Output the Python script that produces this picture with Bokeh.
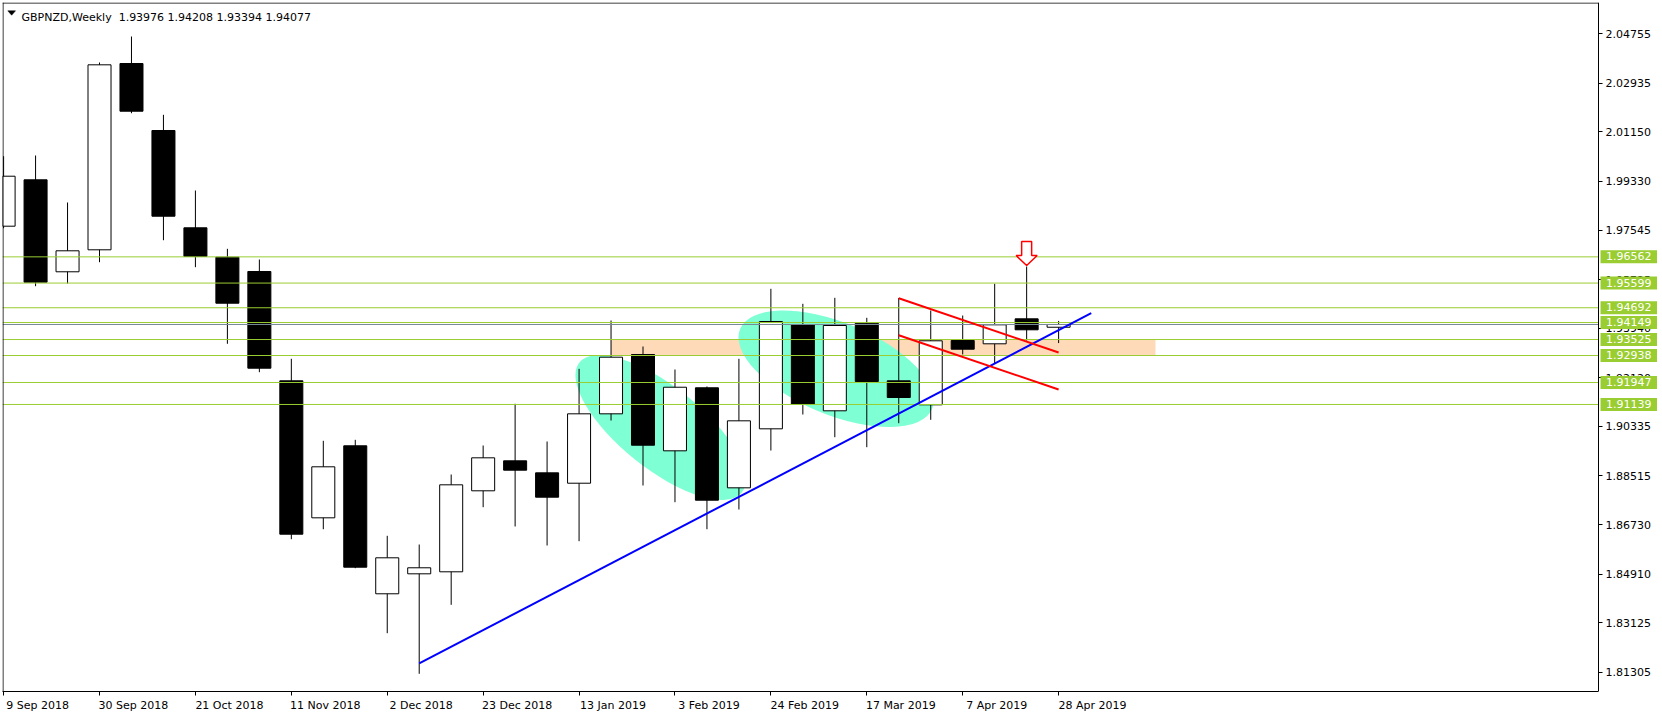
from bokeh.plotting import figure
from bokeh.models import (ColumnDataSource, FixedTicker, NumeralTickFormatter,
                          Range1d, Span, Label, LinearAxis)
from bokeh.embed import file_html
from bokeh.resources import INLINE

# ---------------- data ----------------
title_text = "GBPNZD,Weekly\u00a0 1.93976 1.94208 1.93394 1.94077"

# x tick labels (every 3 weeks, week index 0 = 9 Sep 2018)
tick_weeks = [0, 3, 6, 9, 12, 15, 18, 21, 24, 27, 30, 33]
tick_labels = ["9 Sep 2018", "30 Sep 2018", "21 Oct 2018", "11 Nov 2018",
               "2 Dec 2018", "23 Dec 2018", "13 Jan 2019", "3 Feb 2019",
               "24 Feb 2019", "17 Mar 2019", "7 Apr 2019", "28 Apr 2019"]

# price axis ticks
price_ticks = [2.04755, 2.02935, 2.01150, 1.99330, 1.97545, 1.95725, 1.93940,
               1.92120, 1.90335, 1.88515, 1.86730, 1.84910, 1.83125, 1.81305]

# weekly OHLC (34 bars)
opens = [1.97688, 1.99392, 1.96013, 1.96821, 2.03664, 2.01203, 1.97629, 1.96549,
         1.96024, 1.92009, 1.86976, 1.89621, 1.84185, 1.84919, 1.84993, 1.87968,
         1.89070, 1.88629, 1.88247, 1.90796, 1.92975, 1.89437, 1.91752, 1.88078,
         1.90245, 1.94077, 1.90907, 1.94124, 1.92009, 1.91127, 1.93489, 1.93368,
         1.94286, 1.93976]
highs = [2.00259, 2.00285, 1.98558, 2.03701, 2.04656, 2.01780, 1.98999, 1.96857,
         1.96464, 1.92817, 1.89805, 1.89841, 1.86315, 1.85995, 1.88567, 1.89632,
         1.91164, 1.89779, 1.92449, 1.94224, 1.93269, 1.92424, 1.91800, 1.92817,
         1.95388, 1.94837, 1.95057, 1.94323, 1.95050, 1.94591, 1.94407, 1.95572,
         1.96207, 1.94208]
lows = [1.97614, 1.95484, 1.95583, 1.96365, 2.01838, 1.97173, 1.96182, 1.93368,
        1.92325, 1.86190, 1.86557, 1.85125, 1.82737, 1.81246, 1.83780, 1.87366,
        1.86657, 1.85959, 1.86117, 1.90550, 1.88163, 1.87549, 1.86557, 1.87281,
        1.89448, 1.90771, 1.89937, 1.89570, 1.90451, 1.90576, 1.92975, 1.92633,
        1.93489, 1.93394]
closes = [1.99524, 1.95631, 1.96784, 2.03616, 2.01912, 1.98055, 1.96575, 1.94859,
          1.92472, 1.86374, 1.88850, 1.85162, 1.85507, 1.85140, 1.88188, 1.89180,
          1.88725, 1.87733, 1.90796, 1.92876, 1.89643, 1.91773, 1.87623, 1.90539,
          1.94187, 1.91138, 1.94040, 1.91983, 1.91395, 1.93478, 1.93169, 1.94066,
          1.93882, 1.94077]

# horizontal support / resistance levels
levels = [1.96562, 1.95599, 1.94692, 1.94149, 1.93525, 1.92938, 1.91947, 1.91139]
bid_price = 1.94077

# drawings (week index, price)
trend_weeks = [13, 34.02]
trend_prices = [1.81625, 1.94492]
red1_weeks = [28, 33]
red1_prices = [1.95043, 1.93048]
red2_weeks = [28, 33]
red2_prices = [1.93684, 1.91689]
zone_weeks = [19, 36.03]
zone_prices = [1.92938, 1.93525]
ellipse_weeks = [20.55, 26.04]
ellipse_prices = [1.90293, 1.92449]
arrow_week = 32

# ---------------- layout ----------------
FW, FH = 1660, 689
x_start, x_end = -0.0344, 51.889
axis_x = 49.888            # price scale sits here (right edge of the chart area)
y_start, y_end = 1.80596, 2.05905
xpp = (x_end - x_start) / FW
ypp = (y_end - y_start) / FH

FONT = "DejaVu Sans"
GREEN = "#9ACD32"

p = figure(frame_width=FW, frame_height=FH, min_border_left=2, min_border_top=2,
           min_border_right=0, min_border_bottom=23,
           x_range=Range1d(x_start, x_end), y_range=Range1d(y_start, y_end),
           y_axis_location=None, toolbar_location=None, output_backend="svg",
           title=None)
p.background_fill_color = "white"
p.border_fill_color = "white"
p.outline_line_color = None
p.grid.visible = False

# x axis: labels start at tick (left aligned) -> major ticks carry labels, minor ticks mark the dates
shift = 1.0625
xa = p.xaxis[0]
xa.ticker = FixedTicker(ticks=[t + shift for t in tick_weeks], minor_ticks=tick_weeks)
xa.major_label_overrides = {t + shift: lab for t, lab in zip(tick_weeks, tick_labels)}
xa.bounds = (x_start, axis_x)
xa.major_tick_line_color = None
xa.major_tick_in = 0
xa.major_tick_out = 4
xa.minor_tick_in = 0
xa.minor_tick_out = 4
xa.minor_tick_line_color = "black"
xa.major_label_standoff = 3
xa.major_label_text_font = FONT
xa.major_label_text_font_size = "11px"
xa.major_label_text_color = "black"
xa.axis_line_color = "black"

# price axis, fixed at the chart's right edge
ya = LinearAxis(fixed_location=axis_x)
ya.ticker = FixedTicker(ticks=price_ticks)
ya.formatter = NumeralTickFormatter(format="0.00000")
ya.major_tick_in = 0
ya.major_tick_out = 4
ya.minor_tick_line_color = None
ya.major_label_standoff = 3
ya.major_label_text_font = FONT
ya.major_label_text_font_size = "11px"
ya.major_label_text_color = "black"
ya.axis_line_color = "black"
p.add_layout(ya, "right")

# chart frame (left and top edges)
p.add_layout(Span(location=x_start + 0.5 * xpp, dimension="height",
                  line_color="black", line_width=1))
p.segment(x0=[x_start], y0=[y_end - 0.5 * ypp], x1=[axis_x], y1=[y_end - 0.5 * ypp],
          line_color="black", line_width=1)

# zone rectangle
p.quad(left=[zone_weeks[0]], right=[zone_weeks[1]], bottom=[zone_prices[0]],
       top=[zone_prices[1]], fill_color="#FFDAB9", line_color=None)

# ellipses
p.ellipse(x=ellipse_weeks, y=ellipse_prices, width=[208, 208], height=[82, 92],
          angle=[-0.675, -0.394], width_units="screen", height_units="screen",
          fill_color="#7FFFD4", line_color=None)

# candles
idx = list(range(len(opens)))
src = ColumnDataSource(dict(
    x=idx, o=opens, h=highs, l=lows, c=closes,
    top=[max(a, b) for a, b in zip(opens, closes)],
    bot=[min(a, b) for a, b in zip(opens, closes)],
    col=["white" if c >= o else "black" for o, c in zip(opens, closes)],
))
p.segment(x0="x", y0="l", x1="x", y1="h", source=src, line_color="black", line_width=1)
p.vbar(x="x", width=0.72, top="top", bottom="bot", source=src, fill_color="col",
       line_color="black", line_width=1)

# level lines (stop at the price scale)
p.segment(x0=[x_start] * len(levels), y0=levels, x1=[axis_x] * len(levels), y1=levels,
          line_color=GREEN, line_width=1)
p.segment(x0=[x_start], y0=[bid_price], x1=[axis_x], y1=[bid_price],
          line_color="#778899", line_width=1)

# trend lines
p.line(trend_weeks, trend_prices, line_color="#0000FF", line_width=2)
p.line(red1_weeks, red1_prices, line_color="#FF0000", line_width=2)
p.line(red2_weeks, red2_prices, line_color="#FF0000", line_width=2)

# red down arrow above the week-32 high
arrow_px = [(0, 1), (10.5, 11), (5, 11), (5, 25), (-5, 25), (-5, 11), (-10.5, 11)]
p.patch([arrow_week + dx * xpp for dx, dy in arrow_px],
        [highs[arrow_week] + dy * ypp for dx, dy in arrow_px],
        fill_color="white", line_color="#FF0000", line_width=1.5)

# level price boxes on the price scale
for lv in levels:
    p.add_layout(Label(x=axis_x, y=lv, x_offset=2, text=f"\u2002{lv:.5f}\u2002",
                       text_baseline="middle", text_align="left",
                       text_color="white", text_font=FONT, text_font_size="11px",
                       background_fill_color=GREEN, padding=0))

# title
tri_px = [(5.3, 8.3), (13, 8.3), (9.15, 12.7)]
p.patch([x_start + dx * xpp for dx, dy in tri_px],
        [y_end - dy * ypp for dx, dy in tri_px],
        fill_color="black", line_color="black", line_width=0.5)
p.add_layout(Label(x=x_start, y=y_end, x_offset=19, y_offset=-14.7, text=title_text,
                   text_baseline="alphabetic", text_align="left", text_color="black",
                   text_font=FONT, text_font_size="11px"))

open("out.html", "w").write(file_html(p, INLINE))
